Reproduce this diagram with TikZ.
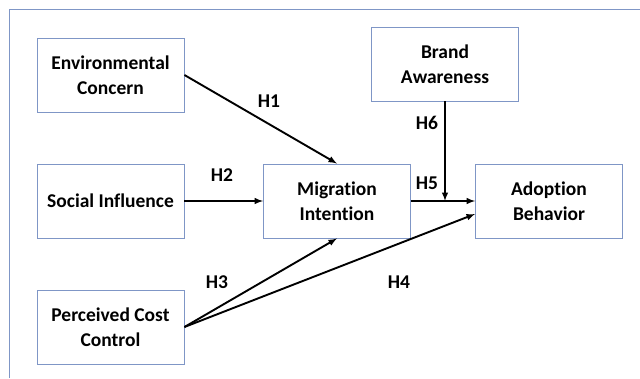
\documentclass[tikz,border=0pt]{standalone}
\usepackage{fontspec}
\setmainfont{Carlito}[RawFeature={-liga;-clig;-calt;-dlig}]
\definecolor{boxblue}{HTML}{7F96C6}
\tikzset{
  construct/.style={rectangle, draw=boxblue, line width=0.9pt, minimum width=147pt,
    minimum height=74pt, align=center, inner sep=0pt},
  rel/.style={->, >=latex, line width=1.9pt},
  hyp/.style={inner sep=0pt}
}
\begin{document}
\begin{tikzpicture}[x=1pt, y=-1pt, font=\fontsize{19.5}{25}\selectfont\bfseries]
        \useasboundingbox (0,0) rectangle (640,378);
        % frame
        \draw[boxblue, line width=0.9pt] (9,378) -- (9,9) -- (640,9);
        % Define nodes
        \node[construct] (EC) at (110.5,75) {Environmental\\Concern};
        \node[construct] (SI) at (110.5,201) {Social Influence};
        \node[construct] (PCC) at (110.5,327) {Perceived Cost\\Control};
        \node[construct] (MI) at (337,201) {Migration\\Intention};
        \node[construct] (BA) at (445,64) {Brand\\Awareness};
        \node[construct] (AB) at (549,201) {Adoption\\Behavior};
        \coordinate (join) at (BA.south |- MI.east);
        % Hypothesis labels
        \node[hyp] (h1) at (269,101) {H1};
        \node[hyp] (h2) at (222,175) {H2};
        \node[hyp] (h3) at (217,282) {H3};
        \node[hyp] (h4) at (399,282) {H4};
        \node[hyp] (h5) at (427,183) {H5};
        \node[hyp] (h6) at (427,123) {H6};
        % Connect nodes
        \draw[rel] (EC.east) -- (MI.north);
        \draw[rel] (SI.east) -- (MI.west);
        \draw[rel] (PCC.east) -- (MI.south);
        \draw[rel] (PCC.east) -- ([yshift=-13pt]AB.west);
        \draw[rel] (MI.east) -- (AB.west);
        \draw[rel] (BA.south) -- (join);
\end{tikzpicture}
\end{document}
